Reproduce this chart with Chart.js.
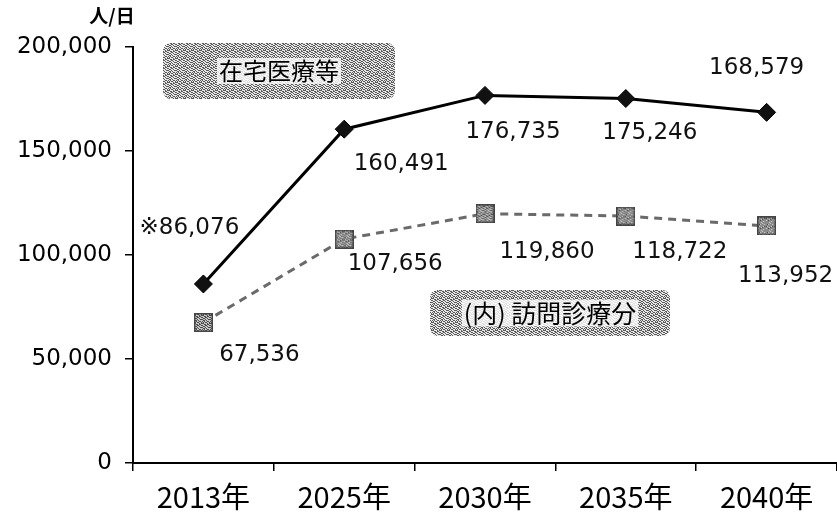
<!DOCTYPE html>
<html>
<head>
<meta charset="utf-8">
<script src="https://cdn.jsdelivr.net/npm/chart.js@4/dist/chart.umd.min.js"></script>
<style>
  html, body { margin: 0; padding: 0; background: #fff; }
  canvas { display: block; }
</style>
</head>
<body>
<canvas id="c" width="837" height="524"></canvas>
<script>
// Categories and series
const years = ['2013年', '2025年', '2030年', '2035年', '2040年'];
const homeCare = [86076, 160491, 176735, 175246, 168579];   // 在宅医療等
const homeVisits = [67536, 107656, 119860, 118722, 113952]; // (内) 訪問診療分
const yTicks = [0, 50000, 100000, 150000, 200000];

const FONT = '"Noto Sans CJK JP", "Noto Sans", sans-serif';
const NUM_FONT = '"DejaVu Sans", "Noto Sans CJK JP", sans-serif';
const fmt = v => v.toLocaleString('en-US');

// Mottled halftone tile used for the caption boxes and square markers
const tileRows = [
  '10100110', '01011001', '11000101', '00110110',
  '10011001', '01100100', '10010011', '01101000'
];
function makeTile(dark, light) {
  const t = document.createElement('canvas');
  t.width = 8; t.height = 8;
  const g = t.getContext('2d');
  tileRows.forEach((row, y) => {
    [...row].forEach((b, x) => {
      g.fillStyle = b === '1' ? dark : light;
      g.fillRect(x, y, 1, 1);
    });
  });
  return t;
}
const boxTile = makeTile('#5a5a5a', '#e8e8e8');
const markerTile = makeTile('#444', '#d0d0d0');

function makeSquareMarker() {
  const s = document.createElement('canvas');
  s.width = 19; s.height = 19;
  const g = s.getContext('2d');
  g.fillStyle = g.createPattern(markerTile, 'repeat');
  g.fillRect(0, 0, 19, 19);
  g.strokeStyle = '#444';
  g.lineWidth = 1.5;
  g.strokeRect(0.75, 0.75, 17.5, 17.5);
  return s;
}
const squareMarker = makeSquareMarker();

// Value label placement relative to each point (dx, dy in px)
const labelOffsets = {
  0: [[-14, -56], [57, 35], [28, 37], [24, 35], [-10, -44]],
  1: [[56, 33], [51, 25], [62, 38], [54, 36], [19, 50]]
};
const labelPrefix = { 0: ['※', '', '', '', ''], 1: ['', '', '', '', ''] };

const decorations = {
  id: 'decorations',
  afterDatasetsDraw(chart) {
    const ctx = chart.ctx;
    const area = chart.chartArea;
    ctx.save();
    // value labels
    ctx.font = '23px ' + NUM_FONT;
    ctx.fillStyle = '#111';
    ctx.textAlign = 'center';
    ctx.textBaseline = 'middle';
    chart.data.datasets.forEach((ds, di) => {
      const meta = chart.getDatasetMeta(di);
      meta.data.forEach((pt, i) => {
        const [dx, dy] = labelOffsets[di][i];
        ctx.fillText(labelPrefix[di][i] + fmt(ds.data[i]), pt.x + dx, pt.y + dy);
      });
    });

    // caption boxes
    const pat = ctx.createPattern(boxTile, 'repeat');
    function caption(x, y, w, h, text, size) {
      ctx.beginPath();
      ctx.roundRect(x, y, w, h, 8);
      ctx.fillStyle = pat;
      ctx.fill();
      ctx.font = size + 'px ' + FONT;
      ctx.textAlign = 'center';
      ctx.textBaseline = 'middle';
      const tw = ctx.measureText(text).width;
      ctx.fillStyle = 'rgba(255,255,255,0.8)';
      ctx.fillRect(x + w / 2 - tw / 2 - 2, y + h / 2 - size / 2 - 1, tw + 4, size + 2);
      ctx.fillStyle = '#000';
      ctx.fillText(text, x + w / 2, y + h / 2);
    }
    caption(area.left + 30, area.top - 4, 232, 56, '在宅医療等', 24);
    caption(area.left + 297, area.top + 243, 240, 46, '(内) 訪問診療分', 25);

    // unit label
    ctx.font = 'bold 19px ' + FONT;
    ctx.fillStyle = '#000';
    ctx.textAlign = 'center';
    ctx.fillText('人/日', area.left - 21, 16);
    ctx.restore();
  }
};

new Chart(document.getElementById('c'), {
  type: 'line',
  data: {
    labels: years,
    datasets: [
      {
        label: '在宅医療等',
        data: homeCare,
        borderColor: '#000',
        borderWidth: 3,
        pointStyle: 'rectRot',
        pointRadius: 9,
        pointBackgroundColor: '#111',
        pointBorderColor: '#000',
        pointBorderWidth: 1,
        tension: 0
      },
      {
        label: '(内) 訪問診療分',
        data: homeVisits,
        borderColor: '#6a6a6a',
        borderWidth: 3,
        borderDash: [8, 6],
        pointStyle: squareMarker,
        tension: 0
      }
    ]
  },
  options: {
    responsive: false,
    devicePixelRatio: 1,
    animation: false,
    layout: { autoPadding: false, padding: { top: 47, left: 0, right: 0, bottom: 0 } },
    plugins: { legend: { display: false }, tooltip: { enabled: false } },
    scales: {
      x: {
        offset: true,
        grid: { offset: true, drawOnChartArea: false, drawTicks: true, tickLength: 8, color: '#000', lineWidth: 1.5 },
        border: { display: true, color: '#000', width: 2 },
        ticks: { color: '#000', font: { family: FONT, size: 29 }, padding: 9, maxRotation: 0 },
        afterFit(s) { s.height = 61; s.paddingLeft = 0; s.paddingRight = 0; }
      },
      y: {
        min: 0,
        max: 200000,
        afterBuildTicks(s) { s.ticks = yTicks.map(v => ({ value: v })); },
        grid: { drawOnChartArea: false, drawTicks: true, tickLength: 8, color: '#000', lineWidth: 1.5 },
        border: { display: true, color: '#000', width: 2 },
        ticks: { color: '#000', font: { family: NUM_FONT, size: 23 }, padding: 13, callback: v => fmt(v) },
        afterFit(s) { s.width = 133; }
      }
    }
  },
  plugins: [decorations]
});
</script>
</body>
</html>
